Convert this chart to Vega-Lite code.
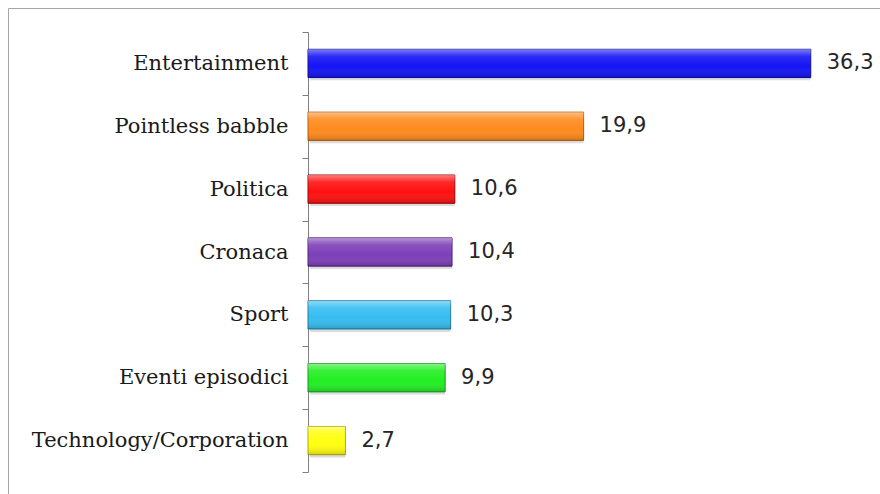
{
  "$schema": "https://vega.github.io/schema/vega-lite/v6.json",
  "width": 880,
  "height": 494,
  "autosize": {"type": "none"},
  "padding": {"left": 8, "top": 8, "right": 0, "bottom": 0},
  "background": "#ffffff",
  "config": {"view": {"stroke": "#a6a6a6", "strokeWidth": 1}},
  "data": {
    "values": [
      {"categoria": "Entertainment", "valore": 36.3, "etichetta": "36,3", "colore": "#1414f5", "bordo": "#0a0a9a"},
      {"categoria": "Pointless babble", "valore": 19.9, "etichetta": "19,9", "colore": "#ff8a1e", "bordo": "#b35c0a"},
      {"categoria": "Politica", "valore": 10.6, "etichetta": "10,6", "colore": "#ff1010", "bordo": "#a00000"},
      {"categoria": "Cronaca", "valore": 10.4, "etichetta": "10,4", "colore": "#7d3fb8", "bordo": "#4e2276"},
      {"categoria": "Sport", "valore": 10.3, "etichetta": "10,3", "colore": "#36bdf0", "bordo": "#1a7aa0"},
      {"categoria": "Eventi episodici", "valore": 9.9, "etichetta": "9,9", "colore": "#22ee22", "bordo": "#12961a"},
      {"categoria": "Technology/Corporation", "valore": 2.7, "etichetta": "2,7", "colore": "#ffff10", "bordo": "#b0a800"}
    ]
  },
  "encoding": {
    "y": {
      "field": "categoria",
      "type": "nominal",
      "sort": ["Entertainment", "Pointless babble", "Politica", "Cronaca", "Sport", "Eventi episodici", "Technology/Corporation"],
      "scale": {"range": [24, 464], "paddingInner": 0, "paddingOuter": 0},
      "axis": {
        "title": null,
        "offset": -300,
        "domainColor": "#7f7f7f",
        "tickColor": "#7f7f7f",
        "ticks": true,
        "tickWidth": 1,
        "tickSize": 6,
        "tickBand": "extent",
        "labelFont": "DejaVu Serif",
        "labelFontSize": 21,
        "labelColor": "#1a1a1a",
        "labelPadding": 14,
        "labelLimit": 0,
        "grid": false
      }
    },
    "x": {
      "field": "valore",
      "type": "quantitative",
      "scale": {"domain": [0, 40], "range": [300, 854], "zero": true},
      "axis": null
    }
  },
  "layer": [
    {
      "mark": {"type": "bar", "color": "#9a9a9a", "opacity": 0.35, "yOffset": 3, "xOffset": 2, "cornerRadius": 1, "height": {"band": 0.45}}
    },
    {
      "mark": {"type": "bar", "strokeWidth": 1, "height": {"band": 0.45}},
      "encoding": {
        "fill": {"field": "colore", "type": "nominal", "scale": null},
        "stroke": {"field": "bordo", "type": "nominal", "scale": null}
      }
    },
    {
      "mark": {
        "type": "bar",
        "height": {"band": 0.45},
        "fill": {
          "gradient": "linear",
          "x1": 0, "y1": 0, "x2": 0, "y2": 1,
          "stops": [
            {"offset": 0, "color": "rgba(255,255,255,0.45)"},
            {"offset": 0.25, "color": "rgba(255,255,255,0.1)"},
            {"offset": 0.6, "color": "rgba(255,255,255,0)"},
            {"offset": 1, "color": "rgba(0,0,0,0.18)"}
          ]
        },
        "stroke": null
      }
    },
    {
      "mark": {"type": "text", "align": "left", "baseline": "middle", "dx": 16, "font": "DejaVu Sans", "fontSize": 21, "color": "#262626"},
      "encoding": {"text": {"field": "etichetta", "type": "nominal"}}
    }
  ]
}
